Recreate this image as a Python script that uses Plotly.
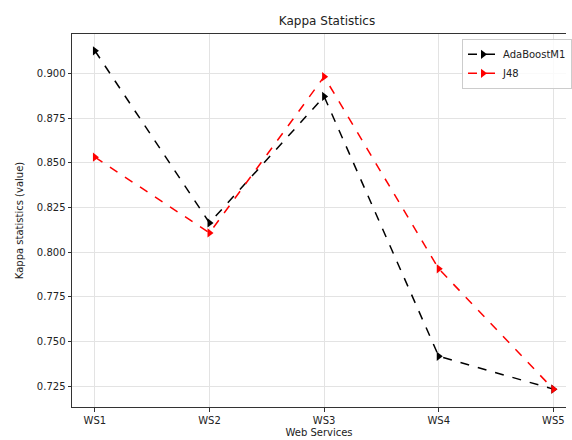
import plotly.graph_objects as go

categories = ["WS1", "WS2", "WS3", "WS4", "WS5"]
adaboost = [0.9128, 0.8164, 0.8872, 0.7417, 0.7233]
j48 = [0.8532, 0.8108, 0.8983, 0.7907, 0.7233]
y_ticks = [0.725, 0.750, 0.775, 0.800, 0.825, 0.850, 0.875, 0.900]

xpos = list(range(len(categories)))

fig = go.Figure()
fig.add_trace(go.Scatter(
    x=xpos, y=adaboost, name="AdaBoostM1", mode="lines+markers",
    line=dict(color="black", dash="dash", width=1.5),
    marker=dict(symbol="triangle-right", size=8, color="black"),
))
fig.add_trace(go.Scatter(
    x=xpos, y=j48, name="J48", mode="lines+markers",
    line=dict(color="red", dash="dash", width=1.5),
    marker=dict(symbol="triangle-right", size=8, color="red"),
))

font = "DejaVu Sans"
fig.update_layout(
    width=572, height=440,
    margin=dict(l=72, r=0, t=34, b=33),
    paper_bgcolor="white", plot_bgcolor="white",
    font=dict(family=font, size=10, color="#222"),
    title=dict(text="Kappa Statistics", x=327/572, xref="container", xanchor="center",
               y=1 - 21/440, yref="container", yanchor="middle",
               font=dict(size=12, family=font, color="#222")),
    showlegend=True,
    legend=dict(x=0.79, y=0.987, xanchor="left", yanchor="top",
                bgcolor="rgba(255,255,255,0.8)", bordercolor="#cccccc", borderwidth=1,
                font=dict(size=10, family=font), tracegroupgap=0, itemwidth=30),
)
fig.update_xaxes(
    range=[-0.2, -0.2 + 500/116.0], tickmode="array", tickvals=xpos, ticktext=categories,
    showgrid=True, gridcolor="#e3e3e3", gridwidth=1,
    showline=True, linecolor="#333", linewidth=1, mirror=True,
    ticks="outside", ticklen=3.5, tickcolor="#333", zeroline=False,
    title=dict(text="Web Services", font=dict(size=10, family=font), standoff=4),
)
fig.update_yaxes(
    range=[0.7133, 0.9222], tickmode="array", tickvals=y_ticks,
    ticktext=[f"{v:.3f}" for v in y_ticks],
    showgrid=True, gridcolor="#e3e3e3", gridwidth=1,
    showline=True, linecolor="#333", linewidth=1, mirror=False,
    ticks="outside", ticklen=3.5, tickcolor="#333", zeroline=False,
    title=dict(text="Kappa statistics (value)", font=dict(size=10, family=font), standoff=11),
)

fig.write_html("out.html", config={"displayModeBar": False},
               post_script="document.body.style.margin='0';document.body.style.overflow='hidden';")
